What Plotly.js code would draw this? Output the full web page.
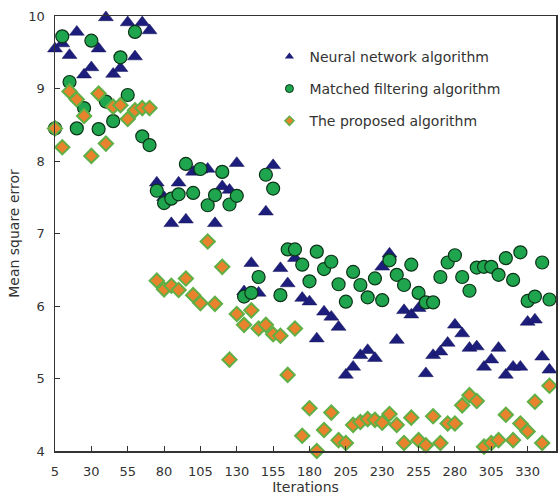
<!DOCTYPE html>
<html>
<head>
<meta charset="utf-8">
<script src="https://cdn.plot.ly/plotly-3.0.1.min.js"></script>
<style>html,body{margin:0;padding:0;background:#fff;}#chart{width:559px;height:495px;}</style>
</head>
<body>
<div id="chart"></div>
<script>
const iterations = [5,10,15,20,25,30,35,40,45,50,55,60,65,70,75,80,85,90,95,100,105,110,115,120,125,130,135,140,145,150,155,160,165,170,175,180,185,190,195,200,205,210,215,220,225,230,235,240,245,250,255,260,265,270,275,280,285,290,295,300,305,310,315,320,325,330,335,340,345,350];

const neuralNetwork = [9.55,9.62,9.46,9.78,9.19,9.29,9.55,9.98,9.20,9.28,9.91,9.44,9.91,9.80,7.70,7.50,7.14,7.70,7.19,7.85,7.88,7.89,7.14,7.65,7.60,7.97,6.20,6.59,6.18,7.30,7.94,6.52,6.31,6.66,6.11,6.06,5.55,5.92,5.85,5.71,5.05,5.16,5.32,5.39,5.28,6.54,6.72,5.53,5.94,5.88,5.97,5.07,5.32,5.37,5.49,5.74,5.62,5.42,5.44,5.16,5.26,5.42,5.05,5.16,5.16,5.78,5.81,5.30,5.12,5.07];

const matchedFiltering = [8.45,9.72,9.09,8.45,8.73,9.66,8.44,8.82,8.55,9.43,8.91,9.78,8.34,8.22,7.59,7.42,7.48,7.54,7.96,7.56,7.89,7.39,7.53,7.85,7.40,7.52,6.13,6.18,6.40,7.81,7.62,6.15,6.78,6.78,6.57,6.34,6.75,6.51,6.61,6.30,6.06,6.47,6.29,6.12,6.38,6.08,6.63,6.43,6.29,6.57,6.18,6.05,6.05,6.40,6.60,6.70,6.40,6.21,6.53,6.54,6.54,6.43,6.66,6.36,6.74,6.07,6.13,6.60,6.09,6.72];

const proposed = [8.45,8.19,8.96,8.85,8.62,8.07,8.93,8.24,8.75,8.77,8.58,8.70,8.73,8.73,6.35,6.23,6.28,6.22,6.38,6.15,6.04,6.89,6.03,6.54,5.26,5.89,5.74,5.94,5.69,5.74,5.61,5.59,5.05,5.69,4.21,4.59,4.00,4.29,4.53,4.15,4.11,4.36,4.40,4.44,4.43,4.39,4.51,4.36,4.11,4.46,4.15,4.08,4.48,4.11,4.38,4.38,4.63,4.77,4.69,4.06,4.11,4.15,4.50,4.15,4.38,4.27,4.68,4.11,4.90,4.14];

const seriesNames = ["Neural network algorithm","Matched filtering algorithm","The proposed algorithm"];
const xTicks = [5,30,55,80,105,130,155,180,205,230,255,280,305,330];
const yTicks = [4,5,6,7,8,9,10];

const font = "DejaVu Sans, Verdana, sans-serif";
const textColor = "#333";

const styles = [
  {symbol: "triangle-up", size: 13, color: "#1d1d7c", line: {width: 0.5, color: "#15155a"}},
  {symbol: "circle", size: 13, color: "#1fa54e", line: {width: 1.2, color: "#0c3318"}},
  {symbol: "diamond", size: 11, color: "#e8822c", line: {width: 2, color: "#5fb045"}}
];
const legendStyles = [
  {symbol: "triangle-up", size: 8, color: "#1d1d7c", line: {width: 0}},
  {symbol: "circle", size: 8, color: "#1fa54e", line: {width: 1, color: "#0c3318"}},
  {symbol: "diamond", size: 7, color: "#e8822c", line: {width: 1.5, color: "#5fb045"}}
];
const seriesData = [neuralNetwork, matchedFiltering, proposed];

const traces = [];
seriesData.forEach((ys, i) => {
  traces.push({x: iterations, y: ys, name: seriesNames[i], type: "scatter", mode: "markers",
               cliponaxis: false, showlegend: false, marker: styles[i]});
});
seriesData.forEach((ys, i) => {
  traces.push({x: [null], y: [null], name: seriesNames[i], legendgroup: "g" + i, type: "scatter",
               mode: "markers", showlegend: true, marker: legendStyles[i]});
});

const layout = {
  width: 559, height: 495,
  margin: {l: 55, r: 3, t: 16, b: 44},
  paper_bgcolor: "#fff", plot_bgcolor: "#fff",
  font: {family: font, size: 13, color: textColor},
  showlegend: true,
  legend: {x: 0.428, y: 0.943, xanchor: "left", yanchor: "top", bgcolor: "rgba(0,0,0,0)",
           font: {family: font, size: 14, color: textColor}, tracegroupgap: 11},
  xaxis: {range: [5, 349.5], tickvals: xTicks, ticktext: xTicks.map(String), ticks: "inside", ticklen: 5,
          tickcolor: "#333", showgrid: false, zeroline: false, showline: true, linecolor: "#333", linewidth: 1.5,
          mirror: true, ticklabelstandoff: 8, tickfont: {family: font, size: 13, color: textColor},
          title: {text: "Iterations", font: {family: font, size: 14, color: textColor}, standoff: 9}},
  yaxis: {range: [4, 10], tickvals: yTicks, ticks: "inside", ticklen: 5, tickcolor: "#333",
          showgrid: false, zeroline: false, showline: true, linecolor: "#333", linewidth: 1.5, mirror: true,
          ticklabelstandoff: 6, tickfont: {family: font, size: 13, color: textColor},
          title: {text: "Mean square error", font: {family: font, size: 14, color: textColor}, standoff: 5}}
};

Plotly.newPlot("chart", traces, layout, {displayModeBar: false, staticPlot: true});
</script>
</body>
</html>
